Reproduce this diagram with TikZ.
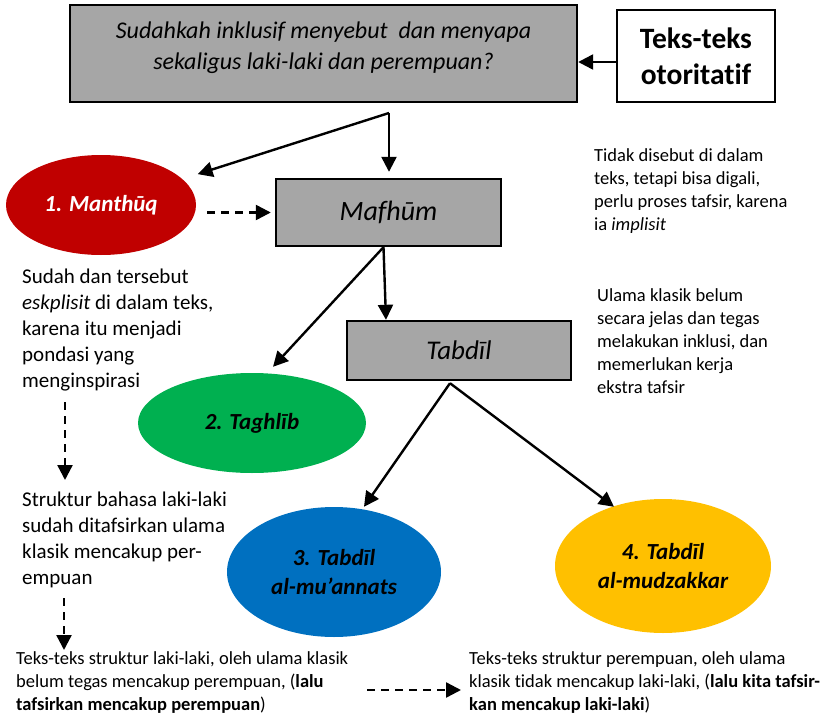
\documentclass[tikz,border=0pt]{standalone}
\usepackage{fontspec}
\setmainfont{Carlito}[Ligatures=NoCommon]
\usetikzlibrary{arrows.meta,shapes.geometric,calc}
\definecolor{boxgray}{HTML}{A6A6A6}
\definecolor{cred}{HTML}{C00000}
\definecolor{cgreen}{HTML}{00B050}
\definecolor{cblue}{HTML}{0070C0}
\definecolor{cyellow}{HTML}{FFC000}
\begin{document}
\begin{tikzpicture}[x=1pt,y=-1pt,
  arr/.style={line width=2.4pt,-{Triangle[length=15pt,width=15pt]}},
  dasharr/.style={arr,dash pattern=on 8pt off 6pt},
  graybox/.style={draw,line width=2.4pt,fill=boxgray,inner sep=0pt,align=center},
  oval/.style={ellipse,inner sep=0pt,align=center,font=\fontsize{23}{29}\selectfont\bfseries\itshape},
  txt/.style={inner sep=0pt,align=left,anchor=north west},
  smalltxt/.style={txt,font=\fontsize{18.5}{23}\selectfont},
  bigtxt/.style={txt,font=\fontsize{21}{26}\selectfont}
]
\useasboundingbox (0,0) rectangle (830,717);

% boxes
\node[graybox,minimum width=507pt,minimum height=97pt,text depth=16pt,font=\fontsize{24}{31}\selectfont\itshape] (top) at (323.5,53.5)
  {Sudahkah inklusif menyebut\ \ dan menyapa\\sekaligus laki-laki dan perempuan?};
\node[draw,line width=2.4pt,fill=white,inner sep=0pt,align=center,minimum width=158pt,minimum height=92pt,
  font=\fontsize{29.5}{36}\selectfont\bfseries] (teks) at (696,56) {Teks-teks\\otoritatif};
\node[graybox,minimum width=225pt,minimum height=67pt,font=\fontsize{28}{32}\selectfont\itshape] (mafhum) at (388.5,212.5) {Mafhūm};
\node[graybox,minimum width=224pt,minimum height=59pt,font=\fontsize{27}{32}\selectfont\itshape] (tabdil) at (459,350.5) {Tabdīl};

% ovals
\node[oval,fill=cred,text=white,minimum width=190pt,minimum height=100pt] (manthuq) at (101,205) {1. Manthūq};
\node[oval,fill=cgreen,minimum width=228pt,minimum height=100pt] (taghlib) at (252,423) {2. Taghlīb};
\node[oval,fill=cblue,minimum width=214pt,minimum height=130pt] (blue) at (334,572) {3. Tabdīl\\al-mu’annats};
\node[oval,fill=cyellow,minimum width=216pt,minimum height=134pt] (yellow) at (663,566) {4. Tabdīl\\al-mudzakkar};

% texts
\node[smalltxt] (rt1) at (594,148) {Tidak disebut di dalam\\teks, tetapi bisa digali,\\perlu proses tafsir, karena\\ia \textit{implisit}};
\node[smalltxt] (rt2) at (597,288) {Ulama klasik belum\\secara jelas dan tegas\\melakukan inklusi, dan\\memerlukan kerja\\ekstra tafsir};
\node[bigtxt] (leftA) at (22,269) {Sudah dan tersebut\\\textit{eskplisit} di dalam teks,\\karena itu menjadi\\pondasi yang\\menginspirasi};
\node[bigtxt] (leftB) at (22,492) {Struktur bahasa laki-laki\\sudah ditafsirkan ulama\\klasik mencakup per-\\empuan};
\node[smalltxt] (botL) at (16,651) {Teks-teks struktur laki-laki, oleh ulama klasik\\belum tegas mencakup perempuan, (\textbf{lalu}\\\textbf{tafsirkan mencakup perempuan})};
\node[smalltxt] (botR) at (469,651) {Teks-teks struktur perempuan, oleh ulama\\klasik tidak mencakup laki-laki, (\textbf{lalu kita tafsir-}\\\textbf{kan mencakup laki-laki})};

% connectors
\coordinate (tw) at ([yshift=-6pt]teks.west);
\draw[arr] (tw) -- (top.east |- tw);
\coordinate (b1) at (389,113);
\draw[arr,shorten >=16pt] (b1) -- (manthuq);
\draw[arr,shorten >=6pt] (b1) -- (b1 |- mafhum.north);
\coordinate (ms) at ([xshift=11pt]manthuq.east |- mafhum.west);
\draw[dasharr] (ms) -- ([xshift=-4pt]mafhum.west);
\coordinate (b2) at ([xshift=-5pt]mafhum.south);
\draw[arr] (b2) -- ([shift={(21pt,6pt)}]taghlib.north);
\draw[arr] (b2) -- ([xshift=-73pt]tabdil.north);
\coordinate (b3) at ([shift={(-9pt,-2pt)}]tabdil.south);
\draw[arr] (b3) -- ([xshift=30pt]blue.north);
\draw[arr] (b3) -- ([shift={(-49pt,-8pt)}]yellow.north);

\coordinate (d1) at (65,402);
\coordinate (d2) at (65,480);
\draw[dasharr] (d1) -- (d2);
\coordinate (d3) at (64,598);
\coordinate (d4) at (64,650);
\draw[dasharr] (d3) -- (d4);
\coordinate (d5) at (367,690);
\coordinate (d6) at (461,690);
\draw[dasharr] (d5) -- (d6);
\end{tikzpicture}
\end{document}
